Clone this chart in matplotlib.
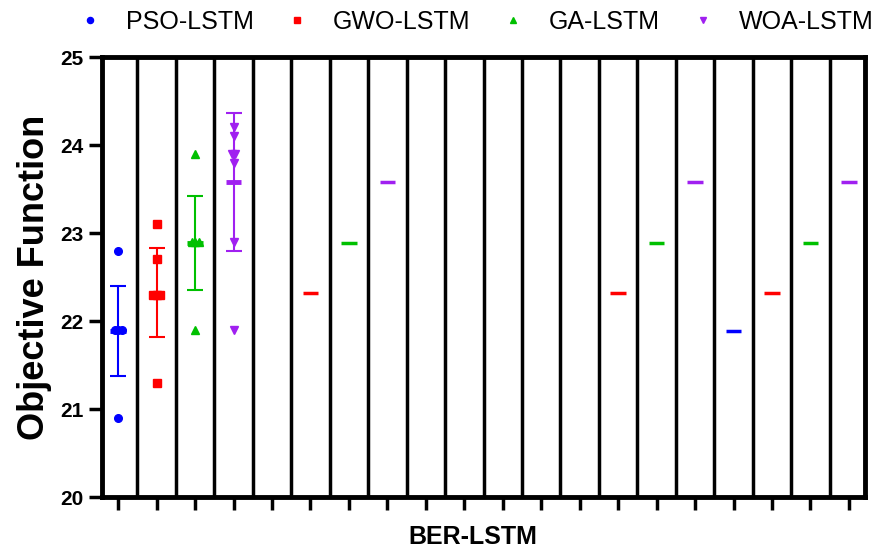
import matplotlib.pyplot as plt
import numpy as np

plt.rcParams['font.family'] = ['Liberation Sans', 'DejaVu Sans']

# series info
names = ['PSO-LSTM', 'GWO-LSTM', 'GA-LSTM', 'WOA-LSTM']
colors = ['#0000FF', '#FF0000', '#00C000', '#A020F0']
markers = ['o', 's', '^', 'v']

# raw points of the first four columns
pso_pts = [22.8, 21.9, 21.9, 21.9, 20.9]
gwo_pts = [23.1, 22.7, 22.3, 22.3, 22.3, 21.3]
ga_pts = [23.9, 22.9, 22.9, 22.9, 21.9]
woa_pts = [24.2, 24.1, 23.9, 23.9, 23.8, 22.9, 21.9]
points = [pso_pts, gwo_pts, ga_pts, woa_pts]

# mean and error
means = [21.89, 22.32, 22.89, 23.58]
errs = [0.51, 0.505, 0.535, 0.78]

# other columns only show a mean line
extra_cols = [5, 6, 7, 13, 14, 15, 16, 17, 18, 19]
extra_series = [1, 2, 3, 1, 2, 3, 0, 1, 2, 3]

n_cols = 20


def spread(vals, step=0.09):
    # put equal values side by side
    vals = np.array(vals)
    off = np.zeros(len(vals))
    for v in np.unique(vals):
        idx = np.where(vals == v)[0]
        k = len(idx)
        off[idx] = (np.arange(k) - (k - 1) / 2) * step
    return off


fig = plt.figure(figsize=(8.95, 5.49), dpi=100)
ax = fig.add_axes([0.114, 0.0947, 0.8526, 0.8013])

for i in range(4):
    pts = points[i]
    xs = i + spread(pts)
    ax.plot(xs, pts, linestyle='', marker=markers[i], color=colors[i],
            markersize=5.5, zorder=3, label=names[i])
    ax.errorbar(i, means[i], yerr=errs[i], fmt='none', ecolor=colors[i],
                elinewidth=1.5, capsize=6, capthick=1.5, zorder=4)
    ax.hlines(means[i], i - 0.2, i + 0.2, color=colors[i], lw=3.5, zorder=5)

for c, s in zip(extra_cols, extra_series):
    ax.hlines(means[s], c - 0.2, c + 0.2, color=colors[s], lw=2.5, zorder=5)

for c in range(n_cols - 1):
    ax.axvline(c + 0.5, color='black', lw=2.5, zorder=2)

ax.set_xlim(-0.42, n_cols - 0.58)
ax.set_ylim(20, 25)
ax.set_xticks(range(n_cols))
ax.set_xticklabels([])
ax.set_yticks([20, 21, 22, 23, 24, 25])
ax.tick_params(axis='both', direction='out', length=9.5, width=2.5, pad=4)
for lab in ax.get_yticklabels():
    lab.set_fontweight('bold')
    lab.set_fontsize(15)
for sp in ax.spines.values():
    sp.set_linewidth(3.5)

ax.set_ylabel('Objective Function', fontsize=26, fontweight='bold', labelpad=6)
ax.set_xlabel('BER-LSTM', fontsize=18, fontweight='bold', va='center')
ax.xaxis.set_label_coords(0.486, -0.091)

fig.legend(loc='center left', bbox_to_anchor=(0.0866, 0.96), ncol=4,
           frameon=False, fontsize=18, handlelength=1.0, handletextpad=0.95,
           columnspacing=1.2, borderpad=0, borderaxespad=0, markerscale=0.8)

fig.savefig('out.png', dpi=100)
